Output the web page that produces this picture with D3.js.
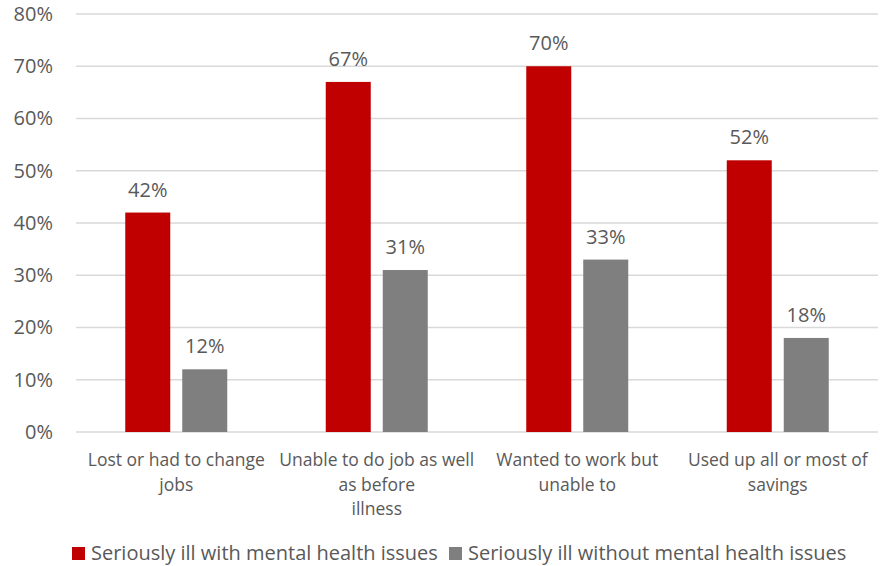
<!DOCTYPE html>
<html>
<head>
<meta charset="utf-8">
<script src="https://cdn.jsdelivr.net/npm/d3@7"></script>
<style>
  body { margin: 0; background: #fff; }
  #canvas { width: 889px; height: 566px; }
  text { font-family: "Open Sans", sans-serif; fill: #595959; }
</style>
</head>
<body>
<div id="canvas" class="canvas"></div>
<script>
// data
var categories = [
  ["Lost or had to change", "jobs"],
  ["Unable to do job as well", "as before", "illness"],
  ["Wanted to work but", "unable to"],
  ["Used up all or most of", "savings"]
];
var seriesNames = ["Seriously ill with mental health issues", "Seriously ill without mental health issues"];
var withMental = [42, 67, 70, 52];
var withoutMental = [12, 31, 33, 18];
var yTicks = [0, 10, 20, 30, 40, 50, 60, 70, 80];
var colors = ["#c00000", "#7f7f7f"];

var outerWidth = 889, outerHeight = 566;
var m = {t:14, r:11, b:134, l:76};
var w = outerWidth - m.l - m.r,
    h = outerHeight - m.t - m.b;

var svg = d3.select('.canvas')
  .append('svg')
  .attr('width', outerWidth)
  .attr('height', outerHeight);

var plot = svg.append('g')
  .attr('transform', 'translate(' + m.l + ',' + m.t + ')');

var rows = categories.map(function(c, i){
  return {key: i, label: c, values: [withMental[i], withoutMental[i]]};
});

var scaleX = d3.scaleBand()
  .domain(rows.map(function(d){ return d.key; }))
  .range([0, w]);

var scaleY = d3.scaleLinear()
  .domain([0, 80])
  .range([h, 0]);

var barW = 45, gap = 12;

// gridlines
plot.selectAll('.grid')
  .data(yTicks)
  .enter()
  .append('line')
  .attr('x1', 0)
  .attr('x2', w)
  .attr('y1', function(d){ return scaleY(d); })
  .attr('y2', function(d){ return scaleY(d); })
  .attr('stroke', '#d9d9d9')
  .attr('stroke-width', 1.3);

// y axis labels
var axisY = d3.axisLeft(scaleY)
  .tickValues(yTicks)
  .tickSize(0)
  .tickPadding(23)
  .tickFormat(function(d){ return d + '%'; });

var gy = plot.append('g').attr('class', 'axis').call(axisY);
gy.select('.domain').remove();
gy.selectAll('text')
  .style('font-size', '20px')
  .style('font-family', '"Open Sans", sans-serif')
  .attr('fill', '#595959');

// bars
var groups = plot.selectAll('.cat')
  .data(rows)
  .enter()
  .append('g')
  .attr('transform', function(d){
    return 'translate(' + (scaleX(d.key) + scaleX.bandwidth()/2 - barW - gap/2) + ',0)';
  });

groups.selectAll('rect')
  .data(function(d){ return d.values; })
  .enter()
  .append('rect')
  .attr('x', function(d, i){ return i*(barW + gap); })
  .attr('y', function(d){ return scaleY(d); })
  .attr('width', barW)
  .attr('height', function(d){ return h - scaleY(d); })
  .attr('fill', function(d, i){ return colors[i]; });

groups.selectAll('.val')
  .data(function(d){ return d.values; })
  .enter()
  .append('text')
  .attr('class', 'val')
  .attr('x', function(d, i){ return i*(barW + gap) + barW/2; })
  .attr('y', function(d){ return scaleY(d) - 16; })
  .attr('text-anchor', 'middle')
  .style('font-size', '20px')
  .text(function(d){ return d + '%'; });

// category labels
groups.append('text')
  .attr('text-anchor', 'middle')
  .attr('x', barW + gap/2)
  .attr('y', h + 34)
  .style('font-size', '17.5px')
  .selectAll('tspan')
  .data(function(d){ return d.label; })
  .enter()
  .append('tspan')
  .attr('x', barW + gap/2)
  .attr('dy', function(d, i){ return i === 0 ? 0 : 24.5; })
  .text(function(d){ return d; });

// legend
var legend = svg.append('g').attr('transform', 'translate(72,547)');
var lx = [0, 377];
seriesNames.forEach(function(s, i){
  var g = legend.append('g').attr('transform', 'translate(' + lx[i] + ',0)');
  g.append('rect').attr('width', 13).attr('height', 13).attr('fill', colors[i]);
  g.append('text').attr('x', 19).attr('y', 13).style('font-size', '20px').text(s);
});
</script>
</body>
</html>
